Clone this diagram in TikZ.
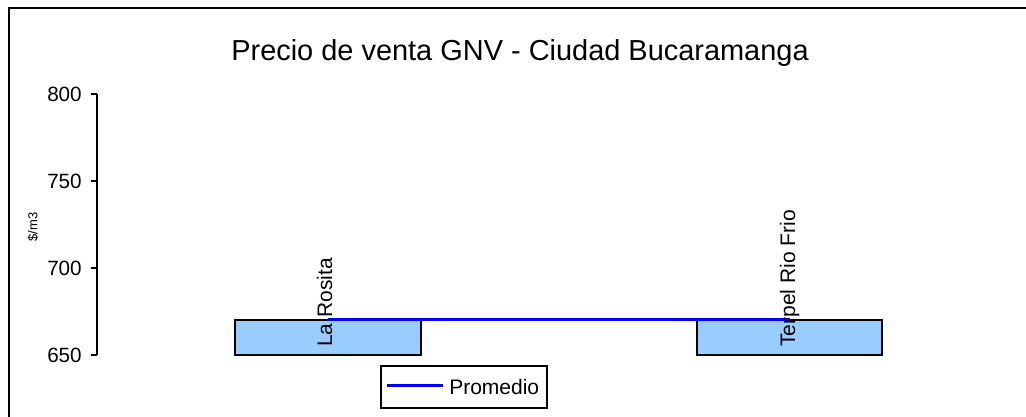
\documentclass[tikz,border=0pt]{standalone}
\usepackage{fontspec}
\setmainfont{Liberation Sans}
\definecolor{barazul}{RGB}{153,204,255}

\begin{document}
\begin{tikzpicture}[x=0.75pt,y=-0.75pt,
  barra/.style={draw=black,line width=1.1pt,fill=barazul},
  etiq/.style={rotate=90,anchor=base west,inner sep=0pt,font=\fontsize{15.75}{18}\selectfont},
  numero/.style={anchor=east,inner sep=0pt,font=\fontsize{15.5}{18}\selectfont}]
\useasboundingbox (0,0) rectangle (1026,417);
\draw[line width=1.5pt] (9,417) -- (9,8) -- (1026,8);
\node (titulo) at (520,53) {\fontsize{21.7}{26}\selectfont Precio de venta GNV - Ciudad Bucaramanga};
% eje vertical
\draw[line width=0.8pt] (97,94) -- (97,355);
\foreach \v in {650,700,750,800} {
  \draw[line width=0.8pt] (91,{355-1.74*(\v-650)}) -- (97,{355-1.74*(\v-650)});
  \node[numero] (n\v) at (82,{355-1.74*(\v-650)}) {\v};
}
\node[rotate=90,font=\fontsize{9.75}{11}\selectfont] (unidad) at (33,227) {\$/m3};
% barras
\draw[barra] (235,320) rectangle (421,355);
\draw[barra] (697,320) rectangle (882,355);
\coordinate (p1) at (328,320);
\coordinate (p2) at (790,320);
\draw[blue,line width=2.25pt] (p1) -- (p2);
\node[etiq] (rosita) at (332,347) {La Rosita};
\node[etiq] (terpel) at (795,347) {Terpel Rio Frio};
% leyenda
\draw[line width=1.1pt,fill=white] (381,366) rectangle (547,408);
\coordinate (l1) at (387,386);
\coordinate (l2) at (443,386);
\draw[blue,line width=2.25pt] (l1) -- (l2);
\node[anchor=base west,inner sep=0pt,font=\fontsize{15.75}{18}\selectfont] (promedio) at (449,395) {Promedio};
\end{tikzpicture}
\end{document}
